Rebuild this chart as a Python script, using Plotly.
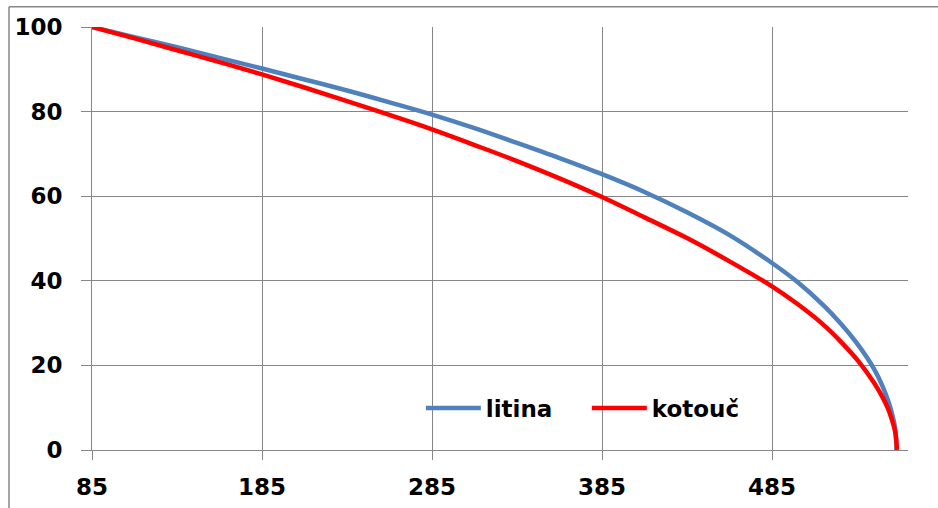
import plotly.graph_objects as go

# Curve samples (x position, value in %)
litina_x = [85, 110, 135, 160, 185, 210, 235, 260, 285, 310, 335, 360, 385, 410, 435, 460, 485,
            500, 515, 525, 535, 545, 550, 554, 556, 557.5, 558, 558.3]
litina_y = [100, 97.6, 95.2, 92.7, 90.2, 87.6, 85.0, 82.2, 79.3, 76.1, 72.6, 69.0, 65.2, 61.0, 56.2, 50.8, 44.2,
            39.7, 34.3, 30.1, 25.2, 19.2, 15.1, 10.8, 7.9, 5.0, 2.9, 0.0]

kotouc_x = [85, 110, 135, 160, 185, 210, 235, 260, 285, 310, 335, 360, 385, 410, 435, 460, 485,
            500, 515, 525, 536, 545, 550, 553, 555.5, 557.5, 558.5]
kotouc_y = [100, 97.3, 94.5, 91.7, 88.8, 85.7, 82.5, 79.2, 75.8, 72.1, 68.3, 64.2, 59.8, 55.0, 50.1, 44.6, 38.7,
            34.5, 29.7, 25.8, 20.9, 15.9, 12.5, 10.0, 7.2, 4.2, 0.0]

x_ticks = [85, 185, 285, 385, 485]
y_ticks = [0, 20, 40, 60, 80, 100]

GRID = "#868686"
FONT = dict(family="DejaVu Sans", size=23, color="black", weight="bold")

fig = go.Figure()
fig.add_trace(go.Scatter(x=litina_x, y=litina_y, name="litina", mode="lines",
                         line=dict(color="#4F81BD", width=4.5, shape="spline", smoothing=1.0)))
fig.add_trace(go.Scatter(x=kotouc_x, y=kotouc_y, name="kotouč", mode="lines",
                         line=dict(color="#FF0000", width=4.5, shape="spline", smoothing=1.0)))

fig.update_layout(
    width=938, height=508,
    margin=dict(l=92, r=30, t=27, b=58),
    plot_bgcolor="white", paper_bgcolor="white",
    font=FONT,
    showlegend=True,
    legend=dict(orientation="h", x=0.403, y=0.099, xanchor="left", yanchor="middle",
                bgcolor="rgba(0,0,0,0)", font=FONT, itemwidth=55,
                entrywidth=96, entrywidthmode="pixels"),
    xaxis=dict(range=[85, 565], tickvals=x_ticks, ticktext=[str(v) for v in x_ticks],
               showgrid=True, gridcolor=GRID, gridwidth=1,
               showline=True, linecolor=GRID, linewidth=1,
               ticks="outside", ticklen=9, tickcolor=GRID, tickwidth=1,
               zeroline=False, ticklabelstandoff=7, automargin=False),
    yaxis=dict(range=[0, 100], tickvals=y_ticks,
               showgrid=True, gridcolor=GRID, gridwidth=1,
               showline=True, linecolor=GRID, linewidth=1,
               ticks="outside", ticklen=10, tickcolor=GRID, tickwidth=1,
               zeroline=False, ticklabelstandoff=14, automargin=False),
    shapes=[
        dict(type="line", xref="paper", yref="paper", x0=-0.1017, x1=1.2, y0=1.048, y1=1.048,
             line=dict(color=GRID, width=1.5)),
        dict(type="line", xref="paper", yref="paper", x0=-0.1017, x1=-0.1017, y0=1.048, y1=-0.3,
             line=dict(color=GRID, width=1.5)),
    ],
)

fig.write_html("out.html")
